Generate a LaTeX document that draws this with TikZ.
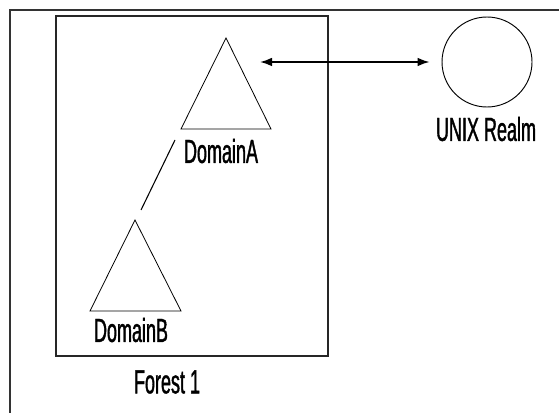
\documentclass[tikz,border=0pt]{standalone}
\usepackage{fontspec}
\setmainfont{Liberation Sans}[FakeStretch=0.54,FakeBold=1.2]
\usetikzlibrary{arrows.meta}
\begin{document}
\begin{tikzpicture}[x=0.75pt,y=-0.75pt,
  frameline/.style={draw=black!80,line width=1.1pt},
  boxline/.style={draw=black!85,line width=0.8pt},
  tri/.style={draw=black,line width=0.6pt,line join=miter},
  lbl/.style={inner sep=0pt,font=\fontsize{25}{27}\selectfont},
  realmnode/.style={circle,draw=black,line width=0.7pt,minimum size=67.5pt,inner sep=0pt},
  link/.style={draw=black,line width=0.8pt},
  biarrow/.style={draw=black,line width=1.2pt,{Latex[length=9pt,width=6.5pt]}-{Latex[length=9pt,width=6.5pt]}}]
\useasboundingbox (0,0) rectangle (559,413);
% outer frame (only left and top edges visible)
\draw[frameline] (10,413) -- (10,10) -- (559,10);
% forest box
\draw[boxline] (56,16) rectangle (328,356);
% domain triangles
\draw[tri] (226,38) -- (271,129) -- (181,129) -- cycle;
\draw[tri] (135,220) -- (181,311) -- (90,311) -- cycle;
\coordinate (aLeft) at (260,62);
\coordinate (linkTop) at (175,140);
\coordinate (linkBot) at (141,210);
% realm
\node[realmnode] (realm) at (487,62) {};
% labels
\node[lbl] (labA) at (221,151) {DomainA};
\node[lbl] (labB) at (131,330) {DomainB};
\node[lbl] (labF) at (167,382) {Forest 1};
\node[lbl] (labR) at (486,129) {UNIX Realm};
% connectors
\draw[link] (linkBot) -- (linkTop);
\draw[biarrow, shorten >=9pt] (aLeft) -- (realm.west);
\end{tikzpicture}
\end{document}
